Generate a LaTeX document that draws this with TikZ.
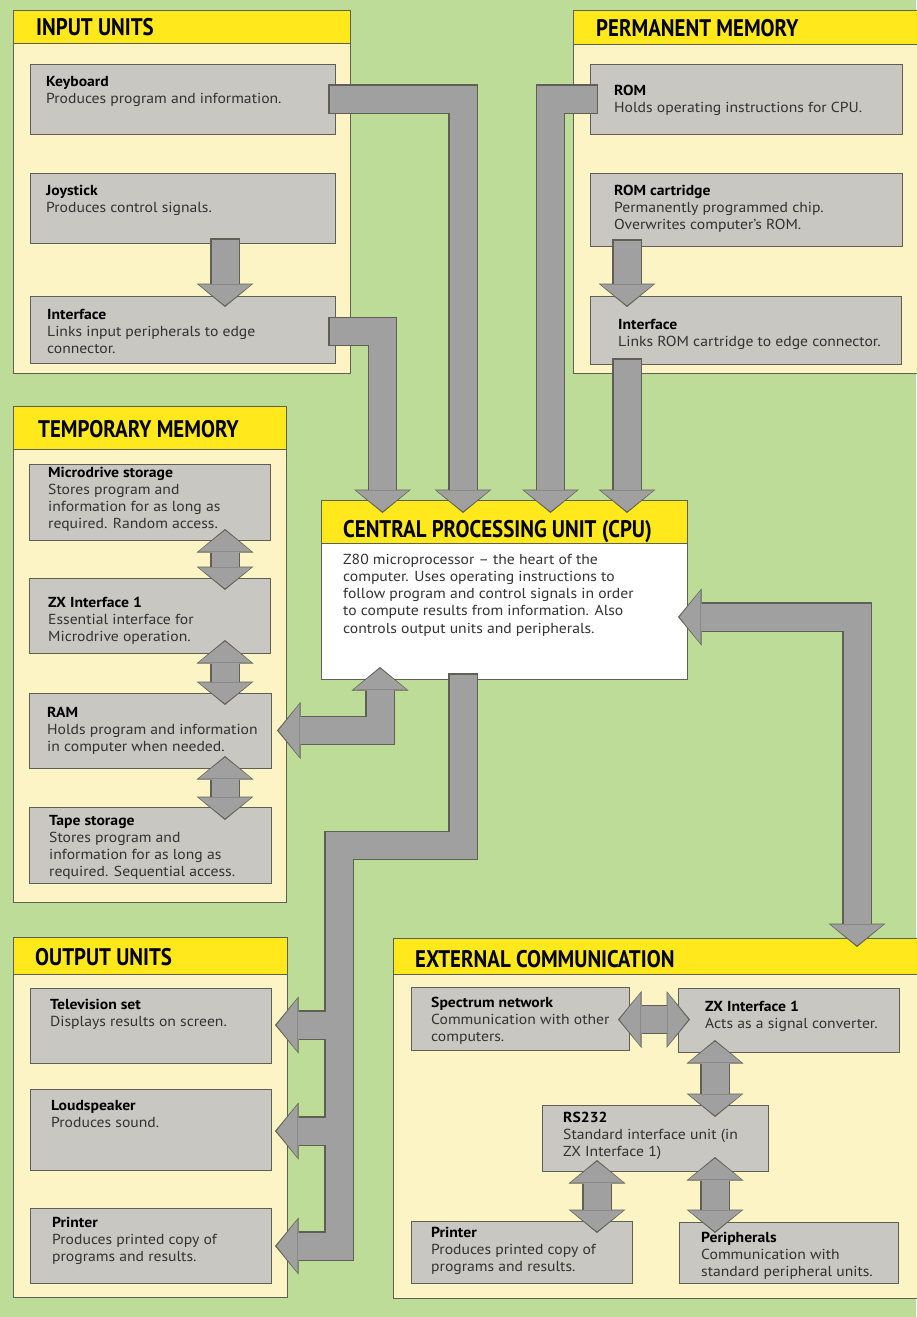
\documentclass[tikz,border=0pt]{standalone}
\usepackage{fontspec}
\setmainfont[FakeStretch=1.08]{PT Sans}
\newfontfamily\ttlfont[FakeStretch=0.87]{PT Sans}
\usetikzlibrary{arrows.meta,fit,calc}
\definecolor{bgreen}{RGB}{188,220,152}
\definecolor{cream}{RGB}{252,244,197}
\definecolor{hyellow}{RGB}{255,232,28}
\definecolor{boxgray}{RGB}{201,199,193}
\definecolor{agray}{RGB}{160,160,160}
\definecolor{outl}{RGB}{95,95,85}
\definecolor{txtcol}{RGB}{50,50,50}
\tikzset{
  panel/.style={draw=outl, fill=cream, line width=0.9pt, inner sep=0pt, outer sep=0pt},
  header/.style={draw=outl, fill=hyellow, line width=0.9pt, inner sep=0pt, outer sep=0pt},
  gbox/.style={draw=outl, fill=boxgray, line width=0.9pt, inner sep=0pt, outer sep=0pt},
  cpubox/.style={draw=outl, fill=white, line width=0.9pt, inner sep=0pt, outer sep=0pt},
  ttl/.style={anchor=base west, inner sep=0pt, font=\ttlfont\bfseries\fontsize{24}{24}\selectfont},
  txt/.style={anchor=base west, inner sep=0pt, text=txtcol},
  darklayer/.style={draw=outl, line width=29.5pt, line join=miter,
    >={Triangle[width=57pt,length=23.5pt,line width=0pt]}},
  lightlayer/.style={draw=agray, line width=27pt, line join=miter,
    shorten <=1.5pt, shorten >=1.6pt,
    >={Triangle[width=53pt,length=21pt,line width=0pt]}},
}
\newcommand\btxt[2]{\parbox[t]{330pt}{\fontsize{14.5}{17.3}\selectfont\raggedright\leavevmode\textcolor{black}{\bfseries #1}\\#2}}
\newcommand\fatpaths{%
  % input units
  \draw[->] ([xshift=-7pt]kb.east) -| (cin2);
  \draw[->] ([shift={(-7pt,-2pt)}]inif.east) -| (cin1);
  \draw[->] ([yshift=5pt]joy.south -| tmx) -- (inifTop);
  % permanent memory
  \draw[->] ([xshift=8pt]rom.west) -| (cin3);
  \draw[->] ([yshift=7pt]romc.south -| cin4) -- (pmifTop);
  \draw[->] ([yshift=6pt]pmif.south -| cin4) -- (cin4);
  % temporary memory
  \draw[<->] (tm1a) -- (tm1b);
  \draw[<->] (tm2a) -- (tm2b);
  \draw[<->] (tm3a) -- (tm3b);
  % RAM <-> CPU
  \draw[<->] (cpuRam) |- (ramR);
  % CPU -> output units
  \draw[->] (cpuOut) |- (bus1) -- (bus2) -- (prnR);
  \draw[->] (tvB) -- (tvR);
  \draw[->] (spkB) -- (spkR);
  % CPU <-> external communication
  \draw[<->] (cpuExt) -| (extTop);
  % external communication
  \draw[<->] (netR) -- (zxL);
  \draw[<->] (zxB) -- (rsT);
  \draw[<->] (rsB1) -- (prnT);
  \draw[<->] (rsB2) -- (perT);
}
\begin{document}
\begin{tikzpicture}[x=1pt,y=-1pt]
\useasboundingbox (0,0) rectangle (916,1317);
\fill[bgreen] (0,0) rectangle (916,1317);

% ---------- panels ----------
\node[panel, fit={(13,10) (350,373)}] (pin) {};
\node[header, fit={(13,10) (350,43)}] (hin) {};
\node[panel, fit={(573,10) (922,373)}] (pperm) {};
\node[header, fit={(573,10) (922,44)}] (hperm) {};
\node[panel, fit={(13,406) (286,902)}] (ptemp) {};
\node[header, fit={(13,406) (286,449)}] (htemp) {};
\node[panel, fit={(13,937) (287,1297)}] (pout) {};
\node[header, fit={(13,937) (287,974)}] (hout) {};
\node[panel, fit={(393,938) (922,1298)}] (pext) {};
\node[header, fit={(393,938) (922,974)}] (hext) {};

% ---------- boxes ----------
\node[gbox, fit={(30,64) (335,134)}] (kb) {};
\node[gbox, fit={(30,173) (335,243)}] (joy) {};
\node[gbox, fit={(30,296) (335,363)}] (inif) {};
\node[gbox, fit={(590,64) (902,134)}] (rom) {};
\node[gbox, fit={(590,173) (902,246)}] (romc) {};
\node[gbox, fit={(590,296) (901,364)}] (pmif) {};
\node[gbox, fit={(29,464) (270,540)}] (md) {};
\node[gbox, fit={(29,578) (270,653)}] (zxa) {};
\node[gbox, fit={(29,693) (271,768)}] (ram) {};
\node[gbox, fit={(29,807) (271,883)}] (tape) {};
\node[gbox, fit={(30,988) (271,1063)}] (tv) {};
\node[gbox, fit={(30,1089) (271,1170)}] (spk) {};
\node[gbox, fit={(30,1208) (271,1283)}] (prn) {};
\node[gbox, fit={(411,987) (629,1050)}] (net) {};
\node[gbox, fit={(678,988) (899,1052)}] (zxb) {};
\node[gbox, fit={(542,1105) (768,1171)}] (rs) {};
\node[gbox, fit={(411,1221) (632,1283)}] (prnb) {};
\node[gbox, fit={(679,1222) (898,1283)}] (per) {};
\node[cpubox, fit={(321,500) (687,679)}] (cpu) {};
\node[header, fit={(321,500) (687,543)}] (hcpu) {};

% ---------- connector end points ----------
\coordinate (cin1) at (382.5,513);
\coordinate (cin2) at (463,513);
\coordinate (cin3) at (550.5,513);
\coordinate (cin4) at (627,513);
\coordinate (tmx) at (225,0);
\coordinate (inifTop) at (225,307);
\coordinate (pmifTop) at (627,307);
\coordinate (tm1a) at (225,529);  \coordinate (tm1b) at (225,590);
\coordinate (tm2a) at (225,640);  \coordinate (tm2b) at (225,705);
\coordinate (tm3a) at (225,756);  \coordinate (tm3b) at (225,820);
\coordinate (cpuRam) at (380,667);
\coordinate (ramR) at (277,730.5);
\coordinate (cpuOut) at (463,673);
\coordinate (bus1) at (339,845.5);
\coordinate (bus2) at (339,1246);
\coordinate (prnR) at (275,1246);
\coordinate (tvB) at (339,1025);
\coordinate (tvR) at (275,1025);
\coordinate (spkB) at (339,1131);
\coordinate (spkR) at (275,1131);
\coordinate (cpuExt) at (678,617);
\coordinate (extTop) at (857,947);
\coordinate (netR) at (618,1019.5);
\coordinate (zxL) at (690,1019.5);
\coordinate (zxB) at (715,1040);
\coordinate (rsT) at (715,1117);
\coordinate (rsB1) at (597,1160);
\coordinate (prnT) at (597,1233);
\coordinate (rsB2) at (715,1157);
\coordinate (perT) at (715,1233);

% ---------- fat arrows: outline layer, then fill layer ----------
\begin{scope}[darklayer] \fatpaths \end{scope}
\begin{scope}[lightlayer] \fatpaths \end{scope}

% ---------- titles ----------
\node[ttl] (tin) at (36,35) {INPUT UNITS};
\node[ttl] (tperm) at (596,36) {PERMANENT MEMORY};
\node[ttl] (ttemp) at (38,437) {TEMPORARY MEMORY};
\node[ttl] (tout) at (35,965) {OUTPUT UNITS};
\node[ttl] (text) at (415,967) {EXTERNAL COMMUNICATION};
\node[ttl] (tcpu) at (343,537) {CENTRAL PROCESSING UNIT (CPU)};

% ---------- box texts ----------
\node[txt] (kbt) at (46,86) {\btxt{Keyboard}{Produces program and information.}};
\node[txt] (joyt) at (46,195) {\btxt{Joystick}{Produces control signals.}};
\node[txt] (inift) at (47,319) {\btxt{Interface}{Links input peripherals to edge\\connector.}};
\node[txt] (romt) at (614,95) {\btxt{ROM}{Holds operating instructions for CPU.}};
\node[txt] (romct) at (614,195) {\btxt{ROM cartridge}{Permanently programmed chip.\\Overwrites computer's ROM.}};
\node[txt] (pmift) at (618,329) {\btxt{Interface}{Links ROM cartridge to edge connector.}};
\node[txt] (mdt) at (48,477) {\btxt{Microdrive storage}{Stores program and\\information for as long as\\required. Random access.}};
\node[txt] (zxat) at (48,607) {\btxt{ZX Interface 1}{Essential interface for\\Microdrive operation.}};
\node[txt] (ramt) at (47,717) {\btxt{RAM}{Holds program and information\\in computer when needed.}};
\node[txt] (tapet) at (49,825) {\btxt{Tape storage}{Stores program and\\information for as long as\\required. Sequential access.}};
\node[txt] (cput) at (343,564) {\parbox[t]{330pt}{\fontsize{14.5}{17.3}\selectfont\raggedright Z80 microprocessor – the heart of the\\computer. Uses operating instructions to\\follow program and control signals in order\\to compute results from information. Also\\controls output units and peripherals.}};
\node[txt] (tvt) at (50,1009) {\btxt{Television set}{Displays results on screen.}};
\node[txt] (spkt) at (51,1110) {\btxt{Loudspeaker}{Produces sound.}};
\node[txt] (prnt) at (52,1227) {\btxt{Printer}{Produces printed copy of\\programs and results.}};
\node[txt] (nett) at (431,1007) {\btxt{Spectrum network}{Communication with other\\computers.}};
\node[txt] (zxbt) at (705,1011) {\btxt{ZX Interface 1}{Acts as a signal converter.}};
\node[txt] (rst) at (563,1122) {\btxt{RS232}{Standard interface unit (in\\ZX Interface 1)}};
\node[txt] (prnbt) at (431,1237) {\btxt{Printer}{Produces printed copy of\\programs and results.}};
\node[txt] (pert) at (701,1242) {\btxt{Peripherals}{Communication with\\standard peripheral units.}};
\end{tikzpicture}
\end{document}
